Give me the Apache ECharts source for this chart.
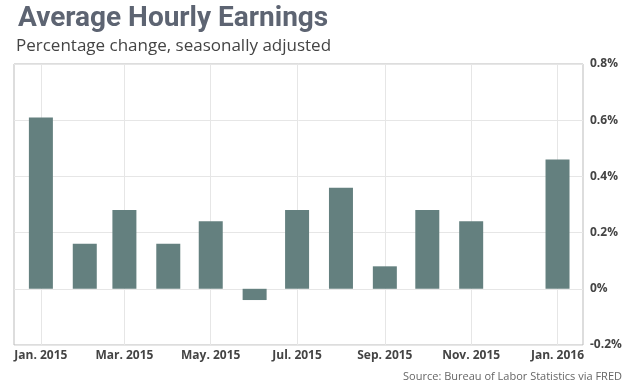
<!DOCTYPE html>
<html>
<head>
<meta charset="utf-8">
<script src="https://cdn.jsdelivr.net/npm/echarts@6/dist/echarts.min.js"></script>
<style>
html,body{margin:0;padding:0;background:#fff;}
#chart{width:643px;height:385px;}
</style>
</head>
<body>
<div id="chart"></div>
<script>
// Data
var months = ['2015-01','2015-02','2015-03','2015-04','2015-05','2015-06','2015-07','2015-08','2015-09','2015-10','2015-11','2015-12','2016-01'];
var values = [0.61, 0.16, 0.28, 0.16, 0.24, -0.04, 0.28, 0.36, 0.08, 0.28, 0.24, 0, 0.46];
var tickMonths = ['2015-01','2015-03','2015-05','2015-07','2015-09','2015-11','2016-01'];
var tickLabels = ['Jan. 2015','Mar. 2015','May. 2015','Jul. 2015','Sep. 2015','Nov. 2015','Jan. 2016'];

function ts(m){ var p = m.split('-'); return new Date(+p[0], +p[1]-1, 1).getTime(); }
var tickTs = tickMonths.map(ts);
var labelByTs = {};
tickTs.forEach(function(t,i){ labelByTs[t] = tickLabels[i]; });

var chart = echarts.init(document.getElementById('chart'));
chart.setOption({
  animation: false,
  backgroundColor: '#fff',
  title: [
    {text: 'Average Hourly Earnings', left: 13, top: 0,
     textStyle: {fontFamily: 'Roboto', fontWeight: 'bold', fontSize: 28, color: '#5d6472'}},
    {text: 'Percentage change, seasonally adjusted', left: 11, top: 33,
     textStyle: {fontFamily: 'Open Sans', fontWeight: 'normal', fontSize: 17, color: '#444'}},
    {text: 'Source: Bureau of Labor Statistics via FRED', right: 16, top: 366,
     textStyle: {fontFamily: 'Open Sans', fontWeight: 'normal', fontSize: 11, color: '#666'}}
  ],
  grid: {left: 14, right: 60, top: 64, bottom: 40, show: true, borderColor: '#bbb', borderWidth: 1, containLabel: false},
  xAxis: {
    type: 'value',
    min: new Date(2014, 11, 13).getTime(),
    max: new Date(2016, 0, 19).getTime(),
    axisLine: {show: false},
    axisTick: {show: false, customValues: tickTs},
    splitLine: {show: true, lineStyle: {color: '#e6e6e6', width: 1}},
    axisLabel: {
      customValues: tickTs,
      formatter: function(v){ return labelByTs[v] || ''; },
      fontFamily: 'Open Sans', fontWeight: 'bold', fontSize: 12, color: '#444', margin: 5
    }
  },
  yAxis: {
    type: 'value', position: 'right',
    min: -0.2, max: 0.8, interval: 0.2,
    axisLine: {show: false}, axisTick: {show: false},
    splitLine: {show: true, lineStyle: {color: '#e6e6e6', width: 1}},
    axisLabel: {
      formatter: function(v){ var r = Math.round(v*10)/10; return (r === 0 ? '0' : r.toFixed(1)) + '%'; },
      fontFamily: 'Open Sans', fontWeight: 'bold', fontSize: 12, color: '#444', margin: 7
    }
  },
  series: [{
    type: 'bar',
    barWidth: 24,
    itemStyle: {color: '#64807f'},
    data: months.map(function(m,i){ return [ts(m), values[i]]; })
  }]
});
</script>
</body>
</html>
